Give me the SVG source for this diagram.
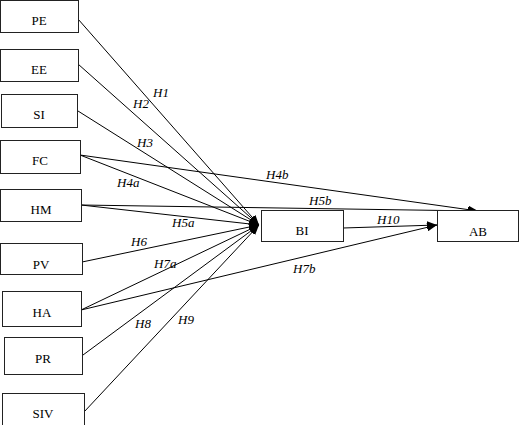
<svg xmlns="http://www.w3.org/2000/svg" width="520" height="425" viewBox="0 0 520 425">
<style>
.box{fill:#fff;stroke:#222;stroke-width:1}
.t{font-family:"Liberation Serif","Times New Roman",serif;font-size:13px;fill:#000;text-anchor:middle}
.h{font-family:"Liberation Serif","Times New Roman",serif;font-size:13px;font-style:italic;fill:#000}
.c line{stroke:#000;stroke-width:1;marker-end:url(#ah)}
</style>
<defs>
<marker id="ah" markerUnits="userSpaceOnUse" markerWidth="10" markerHeight="8" refX="10" refY="4" orient="auto">
<path d="M0,0 L10,4 L0,8 z" fill="#000"/>
</marker>
</defs>
<rect width="520" height="425" fill="#fff"/>
<g class="c" id="connectors">
<line x1="78" y1="19" x2="259" y2="225"/>
<line x1="78" y1="64" x2="259" y2="225"/>
<line x1="78" y1="111" x2="259" y2="225"/>
<line x1="80" y1="155" x2="259" y2="225"/>
<line x1="81" y1="205" x2="259" y2="225"/>
<line x1="82" y1="262" x2="259" y2="225"/>
<line x1="81" y1="310" x2="259" y2="225"/>
<line x1="83" y1="355" x2="259" y2="225"/>
<line x1="84" y1="412" x2="259" y2="225"/>
<line x1="80" y1="155" x2="478" y2="211"/>
<line x1="81" y1="205" x2="478" y2="211"/>
<line x1="343" y1="228" x2="437" y2="225"/>
<line x1="81" y1="310" x2="437" y2="225"/>
</g>
<g id="labels">
<text class="h" x="153" y="97">H1</text>
<text class="h" x="133" y="108">H2</text>
<text class="h" x="137" y="147">H3</text>
<text class="h" x="117" y="187">H4a</text>
<text class="h" x="266" y="179">H4b</text>
<text class="h" x="309" y="205">H5b</text>
<text class="h" x="172" y="227">H5a</text>
<text class="h" x="131" y="246">H6</text>
<text class="h" x="154" y="268">H7a</text>
<text class="h" x="293" y="273">H7b</text>
<text class="h" x="135" y="328">H8</text>
<text class="h" x="178" y="324">H9</text>
<text class="h" x="377" y="224">H10</text>
</g>
<g id="PE"><rect class="box" x="0.5" y="0.5" width="78" height="32"/><text class="t" x="39" y="25">PE</text></g>
<g id="EE"><rect class="box" x="0.5" y="49.5" width="78" height="32"/><text class="t" x="39" y="74">EE</text></g>
<g id="SI"><rect class="box" x="1.5" y="94.5" width="76" height="33"/><text class="t" x="39" y="119">SI</text></g>
<g id="FC"><rect class="box" x="0.5" y="140.5" width="80" height="33"/><text class="t" x="40" y="165">FC</text></g>
<g id="HM"><rect class="box" x="0.5" y="189.5" width="81" height="32"/><text class="t" x="41" y="214">HM</text></g>
<g id="PV"><rect class="box" x="0.5" y="243.5" width="82" height="31"/><text class="t" x="41" y="269">PV</text></g>
<g id="HA"><rect class="box" x="2.5" y="291.5" width="79" height="35"/><text class="t" x="42" y="317">HA</text></g>
<g id="PR"><rect class="box" x="4.5" y="337.5" width="78" height="37"/><text class="t" x="43" y="363">PR</text></g>
<g id="SIV"><rect class="box" x="2.5" y="393.5" width="82" height="32"/><text class="t" x="43" y="418">SIV</text></g>
<g id="BI"><rect class="box" x="261.5" y="210.5" width="82" height="31"/><text class="t" x="302" y="235">BI</text></g>
<g id="AB"><rect class="box" x="437.5" y="210.5" width="81" height="31"/><text class="t" x="478" y="236">AB</text></g>
</svg>
